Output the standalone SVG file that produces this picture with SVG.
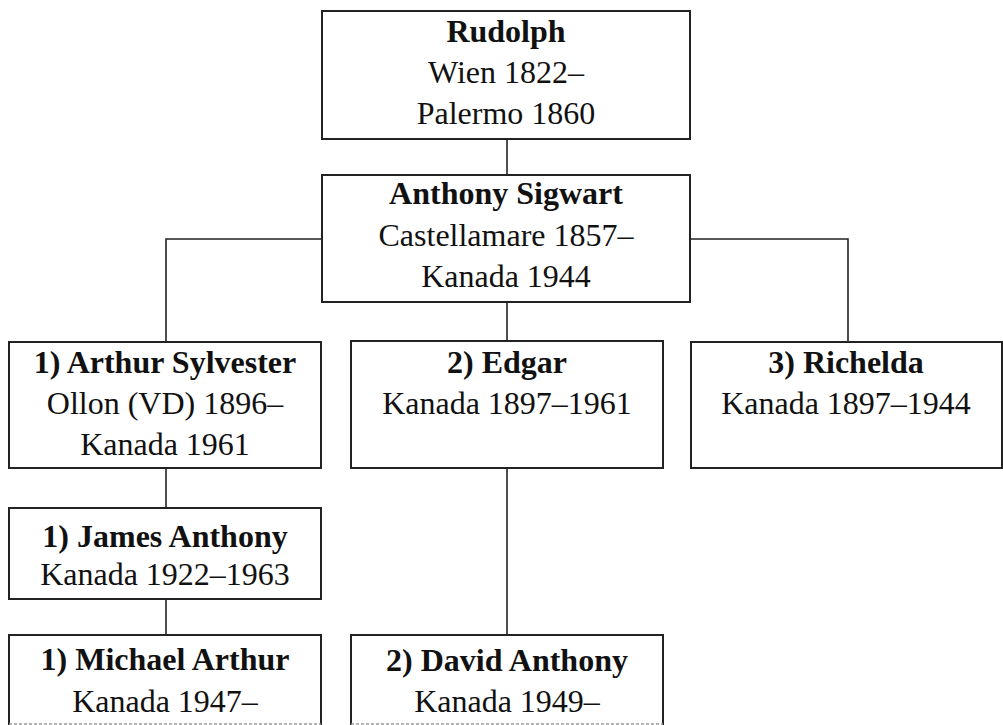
<svg xmlns="http://www.w3.org/2000/svg" width="1003" height="725" viewBox="0 0 1003 725">
<style>
.box{fill:#fff;stroke:#222;stroke-width:2}
.t{font-family:"Liberation Serif","Times New Roman",serif;font-size:32px;fill:#111;text-anchor:middle}
.b{font-weight:bold}
.c{fill:none;stroke:#222;stroke-width:1.6}
.cut{stroke:#999;stroke-width:1.5;stroke-dasharray:3 2}
</style>
<rect width="1003" height="725" fill="#fff"/>
<g id="connectors">
<line class="c" x1="507" y1="139" x2="507" y2="175"/>
<polyline class="c" points="322,239 166,239 166,342"/>
<polyline class="c" points="690,239 848,239 848,342"/>
<line class="c" x1="507" y1="302" x2="507" y2="341"/>
<line class="c" x1="166" y1="468" x2="166" y2="508"/>
<line class="c" x1="166" y1="599" x2="166" y2="635"/>
<line class="c" x1="507" y1="468" x2="507" y2="635"/>
</g>
<g id="rudolph">
<rect class="box" x="322" y="11" width="368" height="128"/>
<text class="t b" x="506" y="42">Rudolph</text>
<text class="t" x="506" y="83">Wien 1822–</text>
<text class="t" x="506" y="124">Palermo 1860</text>
</g>
<g id="anthony-sigwart">
<rect class="box" x="322" y="175" width="368" height="127"/>
<text class="t b" x="506" y="204">Anthony Sigwart</text>
<text class="t" x="506" y="246">Castellamare 1857–</text>
<text class="t" x="506" y="287">Kanada 1944</text>
</g>
<g id="arthur-sylvester">
<rect class="box" x="9" y="342" width="312" height="126"/>
<text class="t b" x="165" y="373">1) Arthur Sylvester</text>
<text class="t" x="165" y="414">Ollon (VD) 1896–</text>
<text class="t" x="165" y="455">Kanada 1961</text>
</g>
<g id="edgar">
<rect class="box" x="351" y="341" width="312" height="127"/>
<text class="t b" x="507" y="373">2) Edgar</text>
<text class="t" x="507" y="414">Kanada 1897–1961</text>
</g>
<g id="richelda">
<rect class="box" x="691" y="342" width="311" height="126"/>
<text class="t b" x="846" y="373">3) Richelda</text>
<text class="t" x="846" y="414">Kanada 1897–1944</text>
</g>
<g id="james-anthony">
<rect class="box" x="9" y="508" width="312" height="91"/>
<text class="t b" x="165" y="547">1) James Anthony</text>
<text class="t" x="165" y="585">Kanada 1922–1963</text>
</g>
<g id="michael-arthur">
<rect class="box" x="9" y="635" width="312" height="100"/>
<line class="cut" x1="9" y1="724" x2="321" y2="724"/>
<text class="t b" x="165" y="670">1) Michael Arthur</text>
<text class="t" x="165" y="712">Kanada 1947–</text>
</g>
<g id="david-anthony">
<rect class="box" x="351" y="635" width="312" height="100"/>
<line class="cut" x1="351" y1="724" x2="663" y2="724"/>
<text class="t b" x="507" y="671">2) David Anthony</text>
<text class="t" x="507" y="712">Kanada 1949–</text>
</g>
</svg>
